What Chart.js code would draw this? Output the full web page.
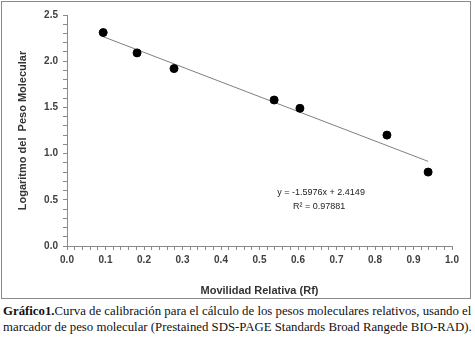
<!DOCTYPE html>
<html>
<head>
<meta charset="utf-8">
<script src="https://cdn.jsdelivr.net/npm/chart.js@4.4.1/dist/chart.umd.min.js"></script>
<style>
  html, body { margin: 0; padding: 0; background: #fff; }
  #box {
    position: absolute; left: 1px; top: 1px;
    width: 468px; height: 296px;
    border: 1px solid #8a8a8a;
  }
  #caption {
    position: absolute; left: 3px; top: 303px;
    font-family: "Liberation Serif", serif; font-size: 12.8px; line-height: 16px;
    color: #111; white-space: nowrap;
  }
</style>
</head>
<body>
<div id="box"><canvas id="ch_calib" width="468" height="296"></canvas></div>
<div id="caption"><b>Gráfico1.</b>Curva de calibración para el cálculo de los pesos moleculares relativos, usando el<br>marcador de peso molecular (Prestained SDS-PAGE Standards Broad Rangede BIO-RAD).</div>
<script>
/* ── data ──────────────────────────────────────────────────────── */
const rfValues   = [0.094, 0.182, 0.278, 0.538, 0.605, 0.831, 0.938];
const logMwVals  = [2.31, 2.09, 1.92, 1.58, 1.49, 1.20, 0.80];
const trendX     = [0.094, 0.938];
const trendY     = [2.265, 0.916];
const eqLines    = ['y = -1.5976x + 2.4149', 'R² = 0.97881'];

const axisGray = '#8a8a8a';
const tickFont = { family: 'Liberation Sans', size: 10, weight: 'bold' };

function isMajor(v, step) {
  const q = v / step;
  return Math.abs(q - Math.round(q)) < 1e-6;
}

// trendline equation text, placed in data coords
const eqLabel = {
  id: 'eqLabel',
  afterDatasetsDraw(chart) {
    const { ctx, scales: { x, y } } = chart;
    ctx.save();
    ctx.fillStyle = '#222';
    ctx.font = '9px "Liberation Sans"';
    ctx.textAlign = 'center';
    ctx.textBaseline = 'middle';
    ctx.fillText(eqLines[0], x.getPixelForValue(0.66), y.getPixelForValue(0.575));
    ctx.fillText(eqLines[1], x.getPixelForValue(0.655), y.getPixelForValue(0.425));
    ctx.restore();
  }
};

new Chart(document.getElementById('ch_calib').getContext('2d'), {
  type: 'scatter',
  data: {
    datasets: [
      {
        label: 'Rf',
        data: rfValues.map((v, i) => ({ x: v, y: logMwVals[i] })),
        backgroundColor: '#000',
        borderColor: '#000',
        pointRadius: 4,
        order: 1
      },
      {
        type: 'line',
        label: 'Lineal',
        data: trendX.map((v, i) => ({ x: v, y: trendY[i] })),
        borderColor: '#7f7f7f',
        borderWidth: 1,
        pointRadius: 0,
        fill: false,
        order: 2
      }
    ]
  },
  options: {
    responsive: false,
    animation: false,
    layout: { padding: { top: 13, right: 18, bottom: 0, left: 0 } },
    plugins: { legend: { display: false }, tooltip: { enabled: false } },
    scales: {
      x: {
        type: 'linear', min: 0, max: 1,
        afterFit: s => { s.height = 52; },
        border: { color: axisGray, width: 1 },
        grid: { drawOnChartArea: false, color: axisGray, tickLength: 4 },
        ticks: {
          stepSize: 0.02, autoSkip: false, maxRotation: 0, padding: 4,
          color: '#404040', font: tickFont,
          callback: v => isMajor(v, 0.1) ? v.toFixed(1) : ''
        },
        title: {
          display: true, text: 'Movilidad Relativa (Rf)', color: '#333',
          font: { family: 'Liberation Sans', size: 11, weight: 'bold' },
          padding: { top: 4, bottom: 0 }
        }
      },
      y: {
        type: 'linear', min: 0, max: 2.5,
        afterFit: s => { s.width = 65; },
        border: { color: axisGray, width: 1 },
        grid: { drawOnChartArea: false, color: axisGray, tickLength: 4 },
        ticks: {
          stepSize: 0.1, autoSkip: false, padding: 5,
          color: '#404040', font: tickFont,
          callback: v => isMajor(v, 0.5) ? v.toFixed(1) : ''
        },
        title: {
          display: true, text: 'Logaritmo del  Peso Molecular', color: '#333',
          font: { family: 'Liberation Sans', size: 11, weight: 'bold' },
          padding: { top: 14, bottom: 0 }
        }
      }
    }
  },
  plugins: [eqLabel]
});
</script>
</body>
</html>
